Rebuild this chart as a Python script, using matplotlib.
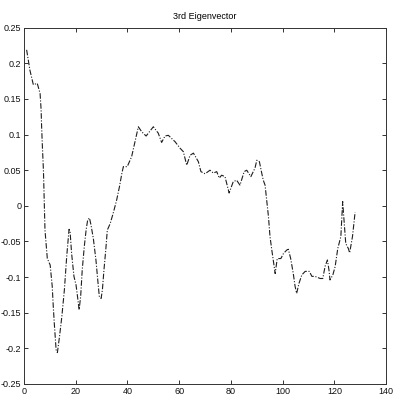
import numpy as np
import matplotlib
matplotlib.use("Agg")
import matplotlib.pyplot as plt

# -------------------------------------------------------
# 3rd eigenvector profile
# -------------------------------------------------------

idx = [1, 2.3, 3.6, 5.1, 6.2, 6.6, 6.8, 7.1, 7.5, 8.1, 9.0, 10.1, 10.9, 11.3,
       11.7, 12.4, 12.9, 13.7, 14.6, 15.6, 16.5, 17.4, 17.8, 18.4, 19.3, 20.1,
       20.6, 21.3, 21.9, 22.5, 23.3, 24.0, 24.6, 25.3, 25.9, 26.8, 27.8, 28.5,
       29.1, 29.8, 30.3, 30.9, 31.6, 32.2, 33.3, 34.5, 35.8, 36.9, 37.8, 38.4,
       39.9, 41.6, 42.9, 44.2, 45.5, 47.2, 50.0, 51.9, 53.2, 54.5, 55.8, 58.4,
       60.3, 61.6, 62.9, 64.2, 65.5, 67.4, 68.4, 70.0, 71.9, 73.2, 74.5, 75.5,
       76.4, 77.7, 79.3, 80.9, 82.2, 83.5, 85.1, 86.1, 87.7, 89.3, 90.0, 91.0,
       91.9, 92.5, 93.2, 94.5, 95.1, 95.8, 97.1, 97.9, 99.3, 100.3, 101.6,
       102.2, 103.1, 104.1, 104.8, 105.4, 106.3, 107.4, 108.7, 110.3, 111.3,
       112.5, 114.5, 115.5, 116.4, 117.3, 117.9, 118.3, 119.4, 120.3, 121.3,
       122.5, 123.2, 123.9, 124.4, 125.4, 125.9, 127.0, 128.0]

vals = [0.219, 0.19, 0.17, 0.172, 0.158, 0.135, 0.111, 0.083, 0.05, -0.034,
        -0.074, -0.083, -0.113, -0.141, -0.165, -0.202, -0.206, -0.184, -0.156,
        -0.118, -0.071, -0.033, -0.036, -0.067, -0.099, -0.111, -0.125, -0.146,
        -0.127, -0.09, -0.057, -0.034, -0.02, -0.017, -0.027, -0.046, -0.076,
        -0.104, -0.127, -0.130, -0.118, -0.09, -0.062, -0.034, -0.025, -0.010,
        0.008, 0.027, 0.045, 0.055, 0.055, 0.069, 0.09, 0.111, 0.104, 0.098,
        0.111, 0.102, 0.089, 0.098, 0.099, 0.090, 0.081, 0.076, 0.057, 0.071,
        0.074, 0.062, 0.048, 0.045, 0.05, 0.046, 0.048, 0.039, 0.043, 0.041,
        0.018, 0.034, 0.036, 0.029, 0.048, 0.050, 0.041, 0.053, 0.064, 0.062,
        0.046, 0.036, 0.029, -0.015, -0.043, -0.062, -0.095, -0.074, -0.074,
        -0.067, -0.062, -0.061, -0.074, -0.095, -0.113, -0.123, -0.109, -0.097,
        -0.092, -0.092, -0.099, -0.099, -0.102, -0.102, -0.085, -0.076, -0.090,
        -0.104, -0.097, -0.085, -0.060, -0.043, 0.006, -0.029, -0.053, -0.060,
        -0.066, -0.043, -0.009]

xticks = [0, 20, 40, 60, 80, 100, 120, 140]
yticks = [-0.25, -0.2, -0.15, -0.1, -0.05, 0, 0.05, 0.1, 0.15, 0.2, 0.25]
ylabels = ["-0.25", "-0.2", "-0.15", "-0.1", "-0.05", "0",
           "0.05", "0.1", "0.15", "0.2", "0.25"]

plt.rcParams["font.family"] = ["Liberation Sans", "DejaVu Sans"]

fig = plt.figure(figsize=(3.94, 4.08), dpi=100)
ax = fig.add_axes([0.061, 0.059, 0.919, 0.873])

ax.plot(idx, vals, color="#1e1e1e", linewidth=0.8,
        linestyle=(0, (5, 1.5, 1, 1.5)))

ax.set_xlim(0, 140)
ax.set_ylim(-0.25, 0.25)
ax.set_xticks(xticks)
ax.set_yticks(yticks)
ax.set_yticklabels(ylabels)
ax.tick_params(direction="in", length=3, width=0.6, labelsize=6.5,
               top=True, right=True, pad=2, colors="#111111")
for s in ax.spines.values():
    s.set_linewidth(0.7)
    s.set_color("#333333")

ax.set_title("3rd Eigenvector", fontsize=6.5, pad=6)

fig.savefig("out.png", dpi=100)
